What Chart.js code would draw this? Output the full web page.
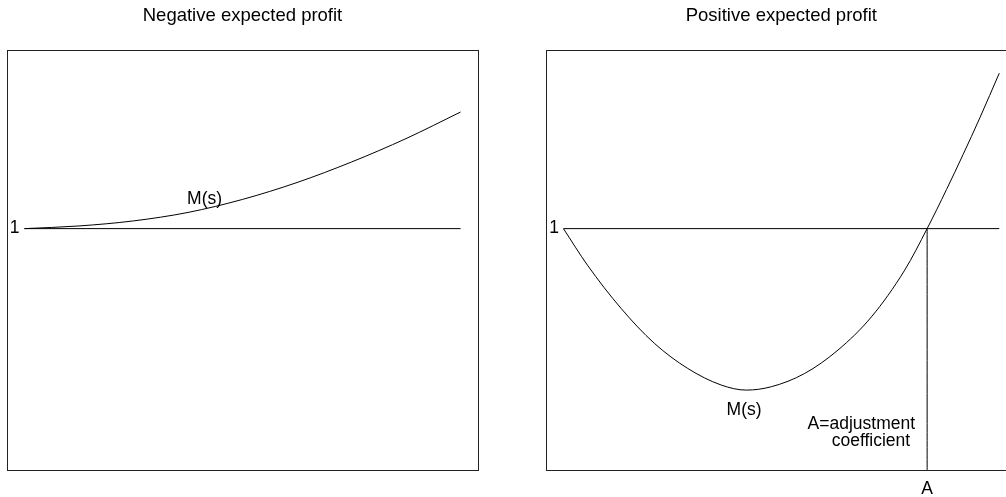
<!DOCTYPE html>
<html>
<head>
<meta charset="utf-8">
<script src="https://cdn.jsdelivr.net/npm/chart.js@4.4.1/dist/chart.umd.min.js"></script>
<style>
  html, body { margin: 0; padding: 0; background: #fff; width: 1006px; height: 497px; overflow: hidden; }
  #wrapL { position: absolute; left: 0; top: 0; width: 500px; height: 497px; }
  #wrapR { position: absolute; left: 500px; top: 0; width: 530px; height: 497px; }
</style>
</head>
<body>
<div id="wrapL"><canvas id="cL" width="500" height="497"></canvas></div>
<div id="wrapR"><canvas id="cR" width="530" height="497"></canvas></div>
<script>
// ---- data ----
const titles = ["Negative expected profit", "Positive expected profit"];
// left panel: M(s) for negative expected profit
const leftS = [0, 0.25, 0.5, 0.75, 1.0, 1.25, 1.5, 1.75, 2.0];
const leftM = [1.000, 1.011, 1.032, 1.067, 1.121, 1.191, 1.276, 1.373, 1.483];
// right panel: M(s) for positive expected profit
const rightS = [0, 0.110, 0.264, 0.417, 0.570, 0.724, 0.839, 0.954, 1.107, 1.260, 1.413, 1.566, 1.669, 1.758, 1.834, 1.911, 2.0];
const rightM = [1.000, 0.849, 0.670, 0.525, 0.421, 0.352, 0.331, 0.345, 0.400, 0.497, 0.634, 0.828, 1.000, 1.162, 1.307, 1.459, 1.644];
const baseline = 1;            // the level "1"
const adjustmentA = 1.669;     // A = adjustment coefficient
const sRange = [0, 2];
const yRange = [0, 1.74];

const FONT = "'Liberation Sans', Arial, Helvetica, sans-serif";

const annot = {
  id: 'annot',
  afterDraw(chart, args, opts) {
    const ctx = chart.ctx, a = chart.chartArea;
    const xs = chart.scales.x, ys = chart.scales.y;
    ctx.save();
    // box
    ctx.strokeStyle = '#222';
    ctx.lineWidth = 1;
    ctx.strokeRect(Math.round(a.left) + 0.5, Math.round(a.top) + 0.5,
                   Math.round(a.width), Math.round(a.height));
    ctx.fillStyle = '#000';
    // title
    ctx.font = '18.5px ' + FONT;
    ctx.textAlign = 'center';
    ctx.textBaseline = 'alphabetic';
    ctx.fillText(opts.title, (a.left + a.right) / 2, 21);
    // other labels
    (opts.labels || []).forEach(l => {
      ctx.font = (l.size || 17.5) + 'px ' + FONT;
      ctx.textAlign = l.align || 'center';
      ctx.textBaseline = l.baseline || 'alphabetic';
      const px = xs.getPixelForValue(l.x) + (l.dx || 0);
      const py = ys.getPixelForValue(l.y) + (l.dy || 0);
      ctx.fillText(l.text, px, py);
    });
    ctx.restore();
  }
};

function makeChart(id, pad, datasets, opts) {
  const pad4 = (sRange[1] - sRange[0]) * 0.04;
  return new Chart(document.getElementById(id), {
    type: 'line',
    data: { datasets },
    options: {
      responsive: false,
      devicePixelRatio: 1,
      animation: false,
      events: [],
      layout: { padding: pad },
      scales: {
        x: { type: 'linear', min: sRange[0] - pad4, max: sRange[1] + pad4, display: false },
        y: { type: 'linear', min: yRange[0], max: yRange[1], display: false }
      },
      plugins: { legend: { display: false }, tooltip: { enabled: false }, title: { display: false }, annot: opts }
    },
    plugins: [annot]
  });
}

function lineDs(xsArr, ysArr, extra) {
  return Object.assign({
    data: xsArr.map((x, i) => ({ x, y: ysArr[i] })),
    borderColor: '#000', borderWidth: 1, pointRadius: 0, fill: false,
    cubicInterpolationMode: 'monotone'
  }, extra || {});
}

// Left chart
makeChart('cL', { left: 7, right: 22, top: 50, bottom: 27 }, [
  lineDs(leftS, leftM),
  lineDs([leftS[0], leftS[leftS.length - 1]], [baseline, baseline], { tension: 0 })
], {
  title: titles[0],
  labels: [
    { text: '1', x: leftS[0], y: baseline, dx: -5, align: 'right', baseline: 'middle' },
    { text: 'M(s)', x: 0.826, y: 1.124, baseline: 'middle' }
  ]
});

// Right chart
makeChart('cR', { left: 46, right: 13.3, top: 50, bottom: 27 }, [
  lineDs(rightS, rightM),
  lineDs([rightS[0], rightS[rightS.length - 1]], [baseline, baseline], { tension: 0 }),
  lineDs([adjustmentA, adjustmentA], [baseline, yRange[0]], { tension: 0 })
], {
  title: titles[1],
  labels: [
    { text: '1', x: rightS[0], y: baseline, dx: -4.5, align: 'right', baseline: 'middle' },
    { text: 'M(s)', x: 0.829, y: 0.249, baseline: 'middle' },
    { text: 'A=adjustment', x: 1.367, y: 0.169 },
    { text: 'coefficient', x: 1.411, y: 0.099 },
    { text: 'A', x: adjustmentA, y: -0.101 }
  ]
});
</script>
</body>
</html>
